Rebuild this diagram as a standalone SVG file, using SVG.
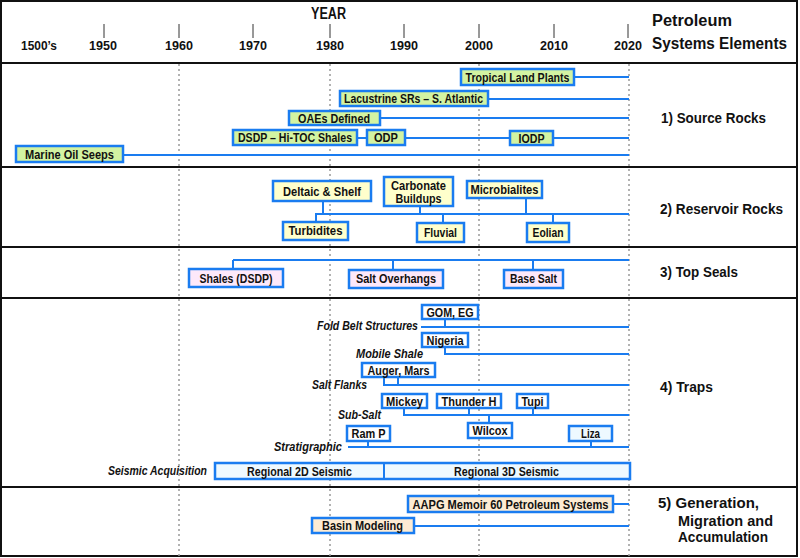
<svg xmlns="http://www.w3.org/2000/svg" width="800" height="558" viewBox="0 0 800 558">
<defs>
<style>
text{font-family:"Liberation Sans",Arial,sans-serif;font-weight:bold;fill:#111}
.b{font-size:12.5px;text-anchor:middle}
.it{font-size:12px;font-style:italic;text-anchor:end}
.yr{font-size:13px;text-anchor:middle}
.sec{font-size:15px}
.hd{font-size:16px}
.sr rect{fill:#d3f3a2;stroke:#1a7cf0;stroke-width:2.5}
.rr rect{fill:#ffffcc;stroke:#1a7cf0;stroke-width:2.5}
.ts rect{fill:#fde8fa;stroke:#1a7cf0;stroke-width:2.5}
.tr rect{fill:#ffffff;stroke:#1a7cf0;stroke-width:2.5}
.tr rect.c{fill:#eef9ff}
.ge rect{fill:#fdebd3;stroke:#1a7cf0;stroke-width:2.5}
.ln{stroke:#1a7cf0;stroke-width:2;fill:none}
.grid{stroke:#999;stroke-width:1.5;stroke-dasharray:2,3}
.frame{stroke:#111;stroke-width:2;fill:none}
</style>
</defs>
<rect x="0" y="0" width="800" height="558" fill="#fff"/>
<g id="frame">
<rect class="frame" x="1" y="1" width="796" height="555"/>
<line class="frame" x1="1" y1="63" x2="797" y2="63"/>
<line class="frame" x1="1" y1="167" x2="797" y2="167"/>
<line class="frame" x1="1" y1="247" x2="797" y2="247"/>
<line class="frame" x1="1" y1="298" x2="797" y2="298"/>
<line class="frame" x1="1" y1="487" x2="797" y2="487"/>
</g>
<g id="grid">
<line class="grid" x1="179" y1="64" x2="179" y2="556"/>
<line class="grid" x1="330" y1="64" x2="330" y2="556"/>
<line class="grid" x1="479" y1="64" x2="479" y2="556"/>
<line class="grid" x1="629" y1="64" x2="629" y2="556"/>
</g>
<g id="axis">
<text class="hd" x="328.5" y="19" text-anchor="middle" textLength="35" lengthAdjust="spacingAndGlyphs">YEAR</text>
<g stroke="#333" stroke-width="1">
<line x1="104" y1="24" x2="104" y2="38"/>
<line x1="179" y1="24" x2="179" y2="38"/>
<line x1="253" y1="24" x2="253" y2="38"/>
<line x1="330" y1="24" x2="330" y2="38"/>
<line x1="404" y1="24" x2="404" y2="38"/>
<line x1="479" y1="24" x2="479" y2="38"/>
<line x1="554" y1="24" x2="554" y2="38"/>
<line x1="628" y1="24" x2="628" y2="38"/>
</g>
<text class="yr" x="39" y="50" textLength="36" lengthAdjust="spacingAndGlyphs">1500’s</text>
<text class="yr" x="103" y="50" textLength="28" lengthAdjust="spacingAndGlyphs">1950</text>
<text class="yr" x="179" y="50" textLength="28" lengthAdjust="spacingAndGlyphs">1960</text>
<text class="yr" x="253" y="50" textLength="28" lengthAdjust="spacingAndGlyphs">1970</text>
<text class="yr" x="330" y="50" textLength="28" lengthAdjust="spacingAndGlyphs">1980</text>
<text class="yr" x="404" y="50" textLength="28" lengthAdjust="spacingAndGlyphs">1990</text>
<text class="yr" x="479" y="50" textLength="28" lengthAdjust="spacingAndGlyphs">2000</text>
<text class="yr" x="554" y="50" textLength="28" lengthAdjust="spacingAndGlyphs">2010</text>
<text class="yr" x="628" y="50" textLength="28" lengthAdjust="spacingAndGlyphs">2020</text>
<text class="hd" x="652" y="26" textLength="80" lengthAdjust="spacingAndGlyphs">Petroleum</text>
<text class="hd" x="652" y="49" textLength="135" lengthAdjust="spacingAndGlyphs">Systems Elements</text>
</g>
<g id="section-labels">
<text class="sec" x="661" y="123" textLength="105" lengthAdjust="spacingAndGlyphs">1) Source Rocks</text>
<text class="sec" x="660" y="214" textLength="123" lengthAdjust="spacingAndGlyphs">2) Reservoir Rocks</text>
<text class="sec" x="660" y="277" textLength="78" lengthAdjust="spacingAndGlyphs">3) Top Seals</text>
<text class="sec" x="660" y="392" textLength="53" lengthAdjust="spacingAndGlyphs">4) Traps</text>
<text class="sec" x="658" y="508" textLength="101" lengthAdjust="spacingAndGlyphs">5) Generation,</text>
<text class="sec" x="678" y="526" textLength="95" lengthAdjust="spacingAndGlyphs">Migration and</text>
<text class="sec" x="678" y="542" textLength="90" lengthAdjust="spacingAndGlyphs">Accumulation</text>
</g>
<g id="connectors">
<path class="ln" d="M574 77H629M488 99H629M380 118H629M357 138H367M405 138H510M553 138H629M123 155H629"/>
<path class="ln" d="M315 214H629M323 201V214M316 214V222M420 206V214M443 214V223M526 198V214M553 214V223"/>
<path class="ln" d="M233 260H629M233 260V269M393 260V270M533 260V270"/>
<path class="ln" d="M421 327H629M445 319V327"/>
<path class="ln" d="M445 347V354H629"/>
<path class="ln" d="M384 377V385H629M398 377V385"/>
<path class="ln" d="M404 408V415H629M469 408V415M533 408V415M489 415V423"/>
<path class="ln" d="M348 447H629M368 441V447M591 441V447"/>
<path class="ln" d="M613 504H629M414 526H629"/>
</g>
<g id="source-rocks" class="sr">
<g id="tropical"><rect x="461" y="69" width="113" height="16"/><text class="b" x="517.5" y="81.5" textLength="104" lengthAdjust="spacingAndGlyphs">Tropical Land Plants</text></g>
<g id="lacustrine"><rect x="340" y="91" width="148" height="15"/><text class="b" x="413.5" y="103" textLength="139" lengthAdjust="spacingAndGlyphs">Lacustrine SRs – S. Atlantic</text></g>
<g id="oaes"><rect x="289" y="111" width="91" height="14"/><text class="b" x="334" y="122.5" textLength="72" lengthAdjust="spacingAndGlyphs">OAEs Defined</text></g>
<g id="dsdp"><rect x="233" y="130" width="124" height="15"/><text class="b" x="295" y="142" textLength="114" lengthAdjust="spacingAndGlyphs">DSDP – Hi-TOC Shales</text></g>
<g id="odp"><rect x="367" y="130" width="38" height="15"/><text class="b" x="386" y="142" textLength="24" lengthAdjust="spacingAndGlyphs">ODP</text></g>
<g id="iodp"><rect x="510" y="131" width="43" height="14"/><text class="b" x="531.5" y="142.5" textLength="26" lengthAdjust="spacingAndGlyphs">IODP</text></g>
<g id="marine"><rect x="16" y="146" width="107" height="16"/><text class="b" x="69.5" y="158.5" textLength="89" lengthAdjust="spacingAndGlyphs">Marine Oil Seeps</text></g>
</g>
<g id="reservoir-rocks" class="rr">
<g id="deltaic"><rect x="273" y="181" width="98" height="20"/><text class="b" x="322" y="195.5" textLength="78" lengthAdjust="spacingAndGlyphs">Deltaic &amp; Shelf</text></g>
<g id="carbonate"><rect x="384" y="177" width="69" height="29"/><text class="b" x="418.5" y="189.5" textLength="55" lengthAdjust="spacingAndGlyphs">Carbonate</text><text class="b" x="418.5" y="202.5" textLength="46" lengthAdjust="spacingAndGlyphs">Buildups</text></g>
<g id="microbialites"><rect x="467" y="181" width="75" height="17"/><text class="b" x="504.5" y="194" textLength="68" lengthAdjust="spacingAndGlyphs">Microbialites</text></g>
<g id="turbidites"><rect x="283" y="222" width="65" height="18"/><text class="b" x="315.5" y="235" textLength="54" lengthAdjust="spacingAndGlyphs">Turbidites</text></g>
<g id="fluvial"><rect x="417" y="223" width="47" height="19"/><text class="b" x="440.5" y="237" textLength="33" lengthAdjust="spacingAndGlyphs">Fluvial</text></g>
<g id="eolian"><rect x="527" y="223" width="42" height="19"/><text class="b" x="548" y="237" textLength="31" lengthAdjust="spacingAndGlyphs">Eolian</text></g>
</g>
<g id="top-seals" class="ts">
<g id="shales"><rect x="189" y="269" width="94" height="18"/><text class="b" x="236" y="282.5" textLength="73" lengthAdjust="spacingAndGlyphs">Shales (DSDP)</text></g>
<g id="salt-overhangs"><rect x="349" y="270" width="94" height="18"/><text class="b" x="396" y="283" textLength="80" lengthAdjust="spacingAndGlyphs">Salt Overhangs</text></g>
<g id="base-salt"><rect x="504" y="270" width="59" height="18"/><text class="b" x="533.5" y="283" textLength="47" lengthAdjust="spacingAndGlyphs">Base Salt</text></g>
</g>
<g id="traps" class="tr">
<text class="it" x="418" y="330" textLength="101" lengthAdjust="spacingAndGlyphs">Fold Belt Structures</text>
<text class="it" x="423" y="358" textLength="67" lengthAdjust="spacingAndGlyphs">Mobile Shale</text>
<text class="it" x="367" y="389" textLength="55" lengthAdjust="spacingAndGlyphs">Salt Flanks</text>
<text class="it" x="381" y="419" textLength="43" lengthAdjust="spacingAndGlyphs">Sub-Salt</text>
<text class="it" x="342" y="451" textLength="68" lengthAdjust="spacingAndGlyphs">Stratigraphic</text>
<text class="it" x="207" y="475" textLength="99" lengthAdjust="spacingAndGlyphs">Seismic Acquisition</text>
<g id="gom"><rect x="422" y="305" width="56" height="14"/><text class="b" x="450" y="316.5" textLength="47" lengthAdjust="spacingAndGlyphs">GOM, EG</text></g>
<g id="nigeria"><rect x="422" y="333" width="46" height="14"/><text class="b" x="445" y="344.5" textLength="37" lengthAdjust="spacingAndGlyphs">Nigeria</text></g>
<g id="auger"><rect x="362" y="363" width="73" height="14"/><text class="b" x="398.5" y="374.5" textLength="62" lengthAdjust="spacingAndGlyphs">Auger, Mars</text></g>
<g id="mickey"><rect x="382" y="394" width="45" height="14"/><text class="b" x="404.5" y="405.5" textLength="37" lengthAdjust="spacingAndGlyphs">Mickey</text></g>
<g id="thunder"><rect x="437" y="394" width="64" height="14"/><text class="b" x="469" y="405.5" textLength="55" lengthAdjust="spacingAndGlyphs">Thunder H</text></g>
<g id="tupi"><rect x="517" y="394" width="31" height="14"/><text class="b" x="532.5" y="405.5" textLength="22" lengthAdjust="spacingAndGlyphs">Tupi</text></g>
<g id="wilcox"><rect x="468" y="423" width="44" height="15"/><text class="b" x="490" y="435" textLength="35" lengthAdjust="spacingAndGlyphs">Wilcox</text></g>
<g id="ramp"><rect x="347" y="426" width="43" height="15"/><text class="b" x="368.5" y="438" textLength="34" lengthAdjust="spacingAndGlyphs">Ram P</text></g>
<g id="liza"><rect class="c" x="569" y="426" width="43" height="15"/><text class="b" x="590.5" y="438" textLength="19" lengthAdjust="spacingAndGlyphs">Liza</text></g>
<g id="seismic"><rect class="c" x="215" y="463" width="415" height="16"/><line class="ln" x1="384" y1="463" x2="384" y2="479"/><text class="b" x="299.5" y="475.5" textLength="105" lengthAdjust="spacingAndGlyphs">Regional 2D Seismic</text><text class="b" x="506.5" y="475.5" textLength="105" lengthAdjust="spacingAndGlyphs">Regional 3D Seismic</text></g>
</g>
<g id="generation" class="ge">
<g id="aapg"><rect x="408" y="496" width="205" height="16"/><text class="b" x="510.5" y="508.5" textLength="196" lengthAdjust="spacingAndGlyphs">AAPG Memoir 60 Petroleum Systems</text></g>
<g id="basin"><rect x="312" y="518" width="102" height="15"/><text class="b" x="362.5" y="530" textLength="81" lengthAdjust="spacingAndGlyphs">Basin Modeling</text></g>
</g>
</svg>
